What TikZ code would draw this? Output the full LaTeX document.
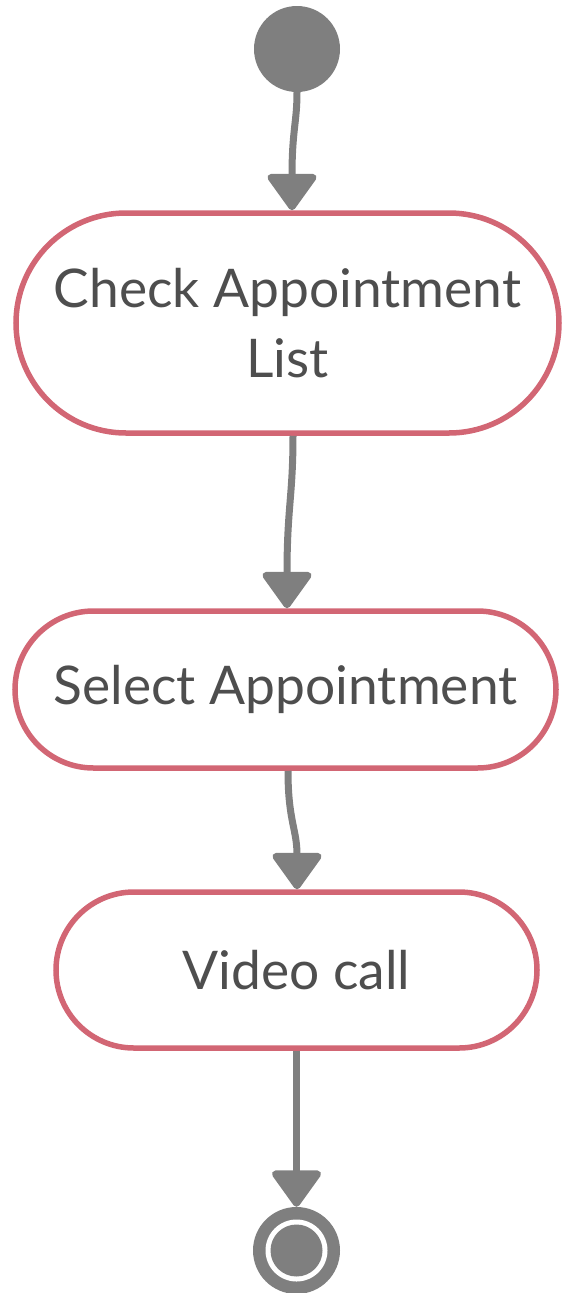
\documentclass[tikz,border=0pt]{standalone}
\usepackage{fontspec}
\setmainfont{Lato}
\usetikzlibrary{arrows.meta}
\definecolor{flowgray}{RGB}{127,127,127}
\definecolor{actborder}{RGB}{210,102,116}
\definecolor{acttext}{RGB}{78,78,78}
\tikzset{
  activity/.style={draw=actborder, line width=5.5pt, fill=white, rectangle,
    inner sep=0pt, align=center, text=acttext,
    font=\fontsize{53.3}{70}\selectfont},
  flow/.style={draw=flowgray, line width=7pt,
    -{Triangle[width=54pt,length=39pt,round]}},
}
\begin{document}
\begin{tikzpicture}[x=1pt, y=-1pt]
  \useasboundingbox (0,0) rectangle (564,1293);
  % initial state
  \node[circle, fill=flowgray, minimum size=86pt, inner sep=0pt] (start) at (297,49) {};
  % activities
  \node[activity, minimum width=543pt, minimum height=220pt, rounded corners=110pt]
    (check) at (287.5,323) {Check Appointment\\List};
  \node[activity, minimum width=541pt, minimum height=157pt, rounded corners=78.5pt]
    (select) at (285.5,689.5) {Select Appointment};
  \node[activity, minimum width=481pt, minimum height=156pt, rounded corners=78pt]
    (video) at (296.5,970) {Video call};
  % final state
  \node[circle, fill=flowgray, minimum size=87pt, inner sep=0pt] (final) at (296.5,1250.5) {};
  \fill[white] (final.center) circle (31);
  \fill[flowgray] (final.center) circle (26);
  % control flow
  \draw[flow] (start.south) .. controls ++(0,30) and ([xshift=4.5pt,yshift=80pt]check.north) .. ([xshift=4.5pt]check.north);
  \draw[flow] ([xshift=5.5pt]check.south) .. controls ++(0,60) and ([xshift=1.5pt,yshift=100pt]select.north) .. ([xshift=1.5pt]select.north);
  \draw[flow] ([xshift=2.5pt]select.south) .. controls ++(0,50) and ([xshift=0.5pt,yshift=60pt]video.north) .. ([xshift=0.5pt]video.north);
  \draw[flow] (video.south) -- (final.north);
\end{tikzpicture}
\end{document}
